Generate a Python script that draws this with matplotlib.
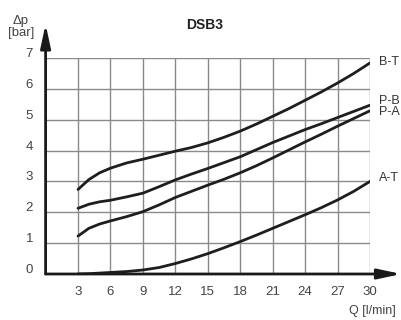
import matplotlib
matplotlib.use("Agg")
import matplotlib.pyplot as plt

plt.rcParams['font.family'] = ['Liberation Sans', 'DejaVu Sans']

# flow Q [l/min] and pressure drop [bar]
q = [3, 4, 5, 6, 7.5, 9, 10.5, 12, 13.5, 15, 16.5, 18, 19.5, 21, 22.5, 24, 25.5, 27, 28.5, 30]
bt = [2.74, 3.06, 3.28, 3.43, 3.60, 3.72, 3.85, 3.98, 4.10, 4.25, 4.43, 4.63, 4.86, 5.11,
      5.36, 5.63, 5.90, 6.19, 6.50, 6.84]
pb = [2.13, 2.26, 2.34, 2.39, 2.50, 2.62, 2.83, 3.05, 3.24, 3.42, 3.61, 3.80, 4.03, 4.26,
      4.47, 4.68, 4.87, 5.07, 5.27, 5.47]
pa = [1.23, 1.48, 1.62, 1.72, 1.86, 2.02, 2.24, 2.48, 2.68, 2.88, 3.07, 3.28, 3.51, 3.76,
      4.02, 4.28, 4.53, 4.79, 5.04, 5.29]
at = [0.0, 0.01, 0.03, 0.05, 0.08, 0.13, 0.21, 0.34, 0.49, 0.66, 0.85, 1.05, 1.26, 1.48,
      1.70, 1.92, 2.15, 2.40, 2.68, 3.00]

curves = [(bt, "B-T"), (pb, "P-B"), (pa, "P-A"), (at, "A-T")]
label_y = {"B-T": 6.88, "P-B": 5.6, "P-A": 5.26, "A-T": 3.1}

xticks = [3, 6, 9, 12, 15, 18, 21, 24, 27, 30]
yticks = [0, 1, 2, 3, 4, 5, 6, 7]

fig = plt.figure(figsize=(4.01, 3.2), dpi=100)
ax = fig.add_axes([45.6 / 401, 46 / 320, (370 - 45.6) / 401, 216 / 320])
ax.set_xlim(0, 30)
ax.set_ylim(0, 7)

for t in xticks:
    ax.axvline(t, color="#8a8a8a", lw=1.0, zorder=1)
for t in yticks[1:]:
    ax.axhline(t, color="#8a8a8a", lw=1.0, zorder=1)

for ys, name in curves:
    ax.plot(q, ys, color="#1e1e1e", lw=2.0, solid_capstyle="round", zorder=3)
    ax.text(30.8, label_y[name], name, fontsize=9, color="#333333",
            va="center", ha="left", clip_on=False, linespacing=1.0)

for s in ax.spines.values():
    s.set_visible(False)
ax.set_xticks([])
ax.set_yticks([])

# axes with arrows
ax.annotate("", xy=(32.9, 0), xytext=(0, 0), annotation_clip=False,
            arrowprops=dict(arrowstyle="-|>,head_length=1.4,head_width=0.3",
                            color="#1a1a1a", lw=2.0, shrinkA=0, shrinkB=0))
ax.annotate("", xy=(0, 8.1), xytext=(0, 0), annotation_clip=False,
            arrowprops=dict(arrowstyle="-|>,head_length=1.4,head_width=0.3",
                            color="#1a1a1a", lw=2.0, shrinkA=0, shrinkB=0))

for t in xticks:
    ax.text(t, -0.58, str(t), fontsize=9.5, color="#444444",
            ha="center", va="center", clip_on=False)
for t in yticks:
    ax.text(-1.15, t + 0.13, str(t), fontsize=9.5, color="#444444",
            ha="right", va="center", clip_on=False)

fig.text(205 / 401, 1 - 25 / 320, "DSB3", fontsize=10, fontweight="bold",
         ha="center", va="center", color="#222222")
fig.text(21 / 401, 1 - 27 / 320, "\u0394p\n[bar]", fontsize=9.5, color="#444444",
         ha="center", va="center", linespacing=1.0)
fig.text(396 / 401, 1 - 311 / 320, "Q [l/min]", fontsize=9, color="#444444",
         ha="right", va="center")

fig.savefig("out.png", dpi=100, facecolor="white")
